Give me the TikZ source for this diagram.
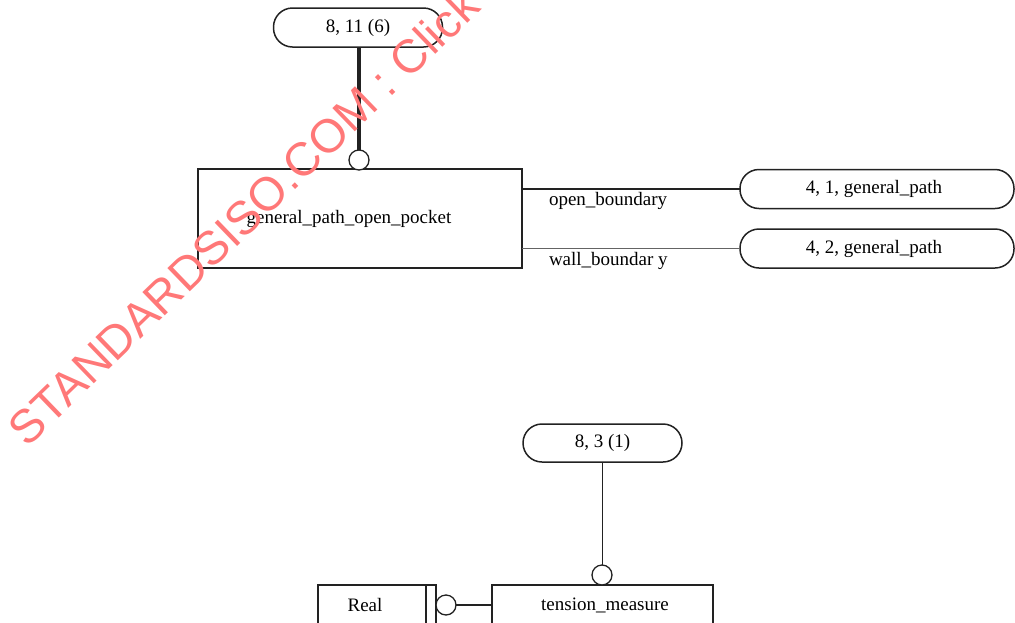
\documentclass[tikz,border=0pt]{standalone}
\usepackage{fontspec}
\setmainfont{Liberation Serif}
\newfontfamily\wmfont{Liberation Sans}
\usetikzlibrary{positioning}
\definecolor{ink}{RGB}{34,34,34}
\definecolor{wmred}{RGB}{255,120,120}
\begin{document}
\begin{tikzpicture}[x=1pt,y=-1pt,
  font=\fontsize{19}{22}\selectfont,
  every node/.style={inner sep=0pt,outer sep=0pt},
  pill/.style={draw=ink,line width=1.5pt,rounded corners=19pt,minimum height=39pt},
  entity/.style={draw=ink,line width=1.3pt},
  ring/.style={draw=ink,line width=1.3pt,circle,minimum size=20pt,fill=white},
  link/.style={draw=ink,line width=1.2pt},
  thinlink/.style={draw=ink!70,line width=1pt}]
\clip (0,0) rectangle (1015,622);
\useasboundingbox (0,0) rectangle (1015,622);
% general_path_open_pocket
\node[pill,minimum width=169pt] (ref811) at (358,27.5) {8, 11 (6)};
\node[entity,minimum width=324pt,minimum height=99pt] (pocket) at (360,218.5) {};
\node (pockettxt) at (349,219) {general\_path\_open\_pocket};
\node[ring] (ring1) at (359,160) {};
\draw[draw=ink,line width=4pt] (ring1.north |- ref811.south) -- (ring1.north);
\node[pill,minimum width=274pt,anchor=west] (ref41) at (740,189) {};
\node (ref41txt) at (874,189) {4, 1, general\_path};
\node[pill,minimum width=274pt,anchor=west] (ref42) at (740,248.5) {};
\node (ref42txt) at (874,249) {4, 2, general\_path};
\draw[link] (ref41.west -| pocket.east) -- (ref41.west);
\draw[thinlink] (ref42.west -| pocket.east) -- (ref42.west);
\node[anchor=west] (lblopen) at (549,201) {open\_boundary};
\node[anchor=west] (lblwall) at (549,261) {wall\_boundar y};
% tension_measure
\node[pill,minimum width=159pt,minimum height=38pt] (ref83) at (602.5,443) {8, 3 (1)};
\node[entity,minimum width=221pt,minimum height=60pt,anchor=north west] (tension) at (492,585) {};
\node (tensiontxt) at (605,605) {tension\_measure};
\node[ring] (ring2) at (602,575) {};
\draw[thinlink,draw=ink] (ring2.north |- ref83.south) -- (ring2.north);
\node[entity,line width=1.5pt,minimum width=118pt,minimum height=60pt,anchor=north west] (real) at (318,585) {};
\draw[entity,line width=1.5pt] (426,585) -- (426,640);
\node (realtxt) at (365,605) {Real};
\node[ring] (ring3) at (446,605) {};
\draw[link] (ring3.east) -- (ring3.east -| tension.west);
% watermark
\node[anchor=base west,rotate=44,text=wmred,font=\wmfont\fontsize{47}{50}\selectfont] (wm) at (28,448)
  {STANDARDSISO.COM : Click to view the full PDF};
\end{tikzpicture}
\end{document}
